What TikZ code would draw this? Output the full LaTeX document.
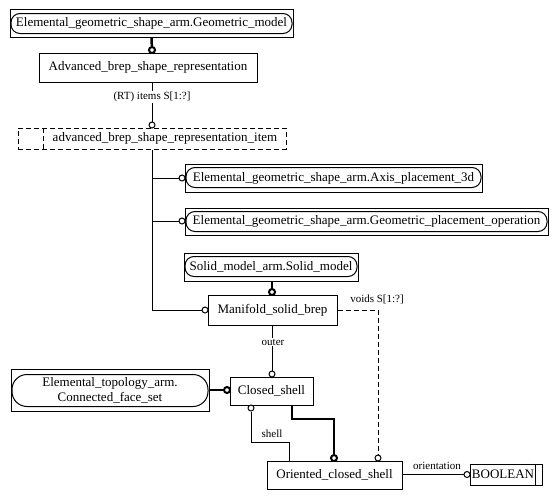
\documentclass[tikz,border=0pt]{standalone}
\usepackage{fontspec}
\setmainfont{Liberation Serif}
\begin{document}
\begin{tikzpicture}[x=1pt,y=-1pt,
  box/.style={draw, line width=1pt, inner sep=0pt, font=\fontsize{13}{15}\selectfont},
  lbl/.style={font=\fontsize{11}{13}\selectfont, inner sep=1pt},
  oc/.style={circle, draw, fill=white, line width=1pt, minimum size=6pt, inner sep=0pt},
  boc/.style={oc, line width=2pt},
  conn/.style={line width=1pt},
  bconn/.style={line width=2.5pt},
  dconn/.style={line width=1pt, dash pattern=on 5pt off 3pt},
  rnd/.style={line width=1pt, rounded corners=9pt}]
\useasboundingbox (0,0) rectangle (558,499);

% entities
\node[box, minimum width=283pt, minimum height=28pt] (gm) at (151.5,23) {Elemental\_geometric\_shape\_arm.Geometric\_model};
\draw[rnd] ([shift={(1.5,5)}]gm.north west) rectangle ([shift={(-1.5,-4)}]gm.south east);

\node[box, minimum width=218pt, minimum height=29pt] (absr) at (148,67.5) {Advanced\_brep\_shape\_representation};

\node[box, dash pattern=on 5pt off 3pt, minimum width=268pt, minimum height=21pt] (absri) at (152,138.5) {};
\node[font=\fontsize{13}{15}\selectfont, inner sep=0pt] (absrit) at (165,138.5) {advanced\_brep\_shape\_representation\_item};
\draw[dconn] ([xshift=26pt]absri.north west) -- ([xshift=26pt]absri.south west);

\node[box, minimum width=297pt, minimum height=28pt] (ax) at (333.5,178) {Elemental\_geometric\_shape\_arm.Axis\_placement\_3d};
\draw[rnd] ([shift={(1.5,4)}]ax.north west) rectangle ([shift={(-1.5,-5)}]ax.south east);

\node[box, minimum width=363pt, minimum height=27pt] (gpo) at (366.5,221.5) {Elemental\_geometric\_shape\_arm.Geometric\_placement\_operation};
\draw[rnd] ([shift={(1.5,4)}]gpo.north west) rectangle ([shift={(-1.5,-4)}]gpo.south east);

\node[box, minimum width=174pt, minimum height=28pt] (sm) at (271,267) {Solid\_model\_arm.Solid\_model};
\draw[rnd] ([shift={(1.5,4)}]sm.north west) rectangle ([shift={(-1.5,-5)}]sm.south east);

\node[box, minimum width=129pt, minimum height=30pt] (ms) at (272.5,310) {Manifold\_solid\_brep};

\node[box, minimum width=198pt, minimum height=42pt, align=center] (cfs) at (110,390) {Elemental\_topology\_arm.\\Connected\_face\_set};
\draw[line width=1pt, rounded corners=15pt] ([shift={(1.5,6)}]cfs.north west) rectangle ([shift={(-1.5,-5)}]cfs.south east);

\node[box, minimum width=83pt, minimum height=28pt] (cs) at (271.5,391) {Closed\_shell};
\node[box, minimum width=135pt, minimum height=28pt] (ocs) at (334.5,475) {Oriented\_closed\_shell};

\node[box, minimum width=72pt, minimum height=21pt] (bool) at (506,474.5) {};
\node[font=\fontsize{13}{15}\selectfont, inner sep=0pt] (boolt) at (503,474.5) {BOOLEAN};
\draw[conn] ([xshift=-7pt]bool.north east) -- ([xshift=-7pt]bool.south east);

% circles
\node[boc] (c1) at (152,50) {};
\node[oc] (c2) at (152,125) {};
\node[oc] (c3) at (182,178) {};
\node[oc] (c4) at (182,221) {};
\node[oc] (c5) at (205,310) {};
\node[boc] (c6) at (272,292) {};
\node[oc] (c7) at (378,458) {};
\node[oc] (c8) at (272,374) {};
\node[boc] (c9) at (227,390) {};
\node[oc] (c10) at (251,408) {};
\node[boc] (c11) at (334,458) {};
\node[oc] (c12) at (467,474.5) {};
\coordinate (k1) at (289,442);
\coordinate (k2) at (292,419);

% connectors
\draw[bconn] (gm.south) -- (c1);
\draw[conn] (absr.south -| c2) -- (c2);
\node[lbl, fill=white] (lrt) at (152,97) {(RT) items S[1:?]};
\draw[conn] (absri.south) |- (c5);
\draw[conn] (absri.south |- c3) -- (c3);
\draw[conn] (absri.south |- c4) -- (c4);
\draw[bconn] (sm.south -| c6) -- (c6);
\draw[dconn] (ms.east) -| (c7);
\node[lbl] (lvoids) at (377,299) {voids S[1:?]};
\draw[conn] (ms.south -| c8) -- (c8);
\node[lbl, fill=white] (louter) at (273,342) {outer};
\draw[bconn] (cfs.east) -- (c9);
\draw[conn] (c10) |- (k1) -- (k1 |- ocs.north);
\node[lbl] (lshell) at (272,434) {shell};
\draw[bconn] (cs.south -| k2) -- (k2) -| (c11);
\draw[conn] (c12 -| ocs.east) -- (c12);
\node[lbl] (lori) at (437,466) {orientation};
\end{tikzpicture}
\end{document}
